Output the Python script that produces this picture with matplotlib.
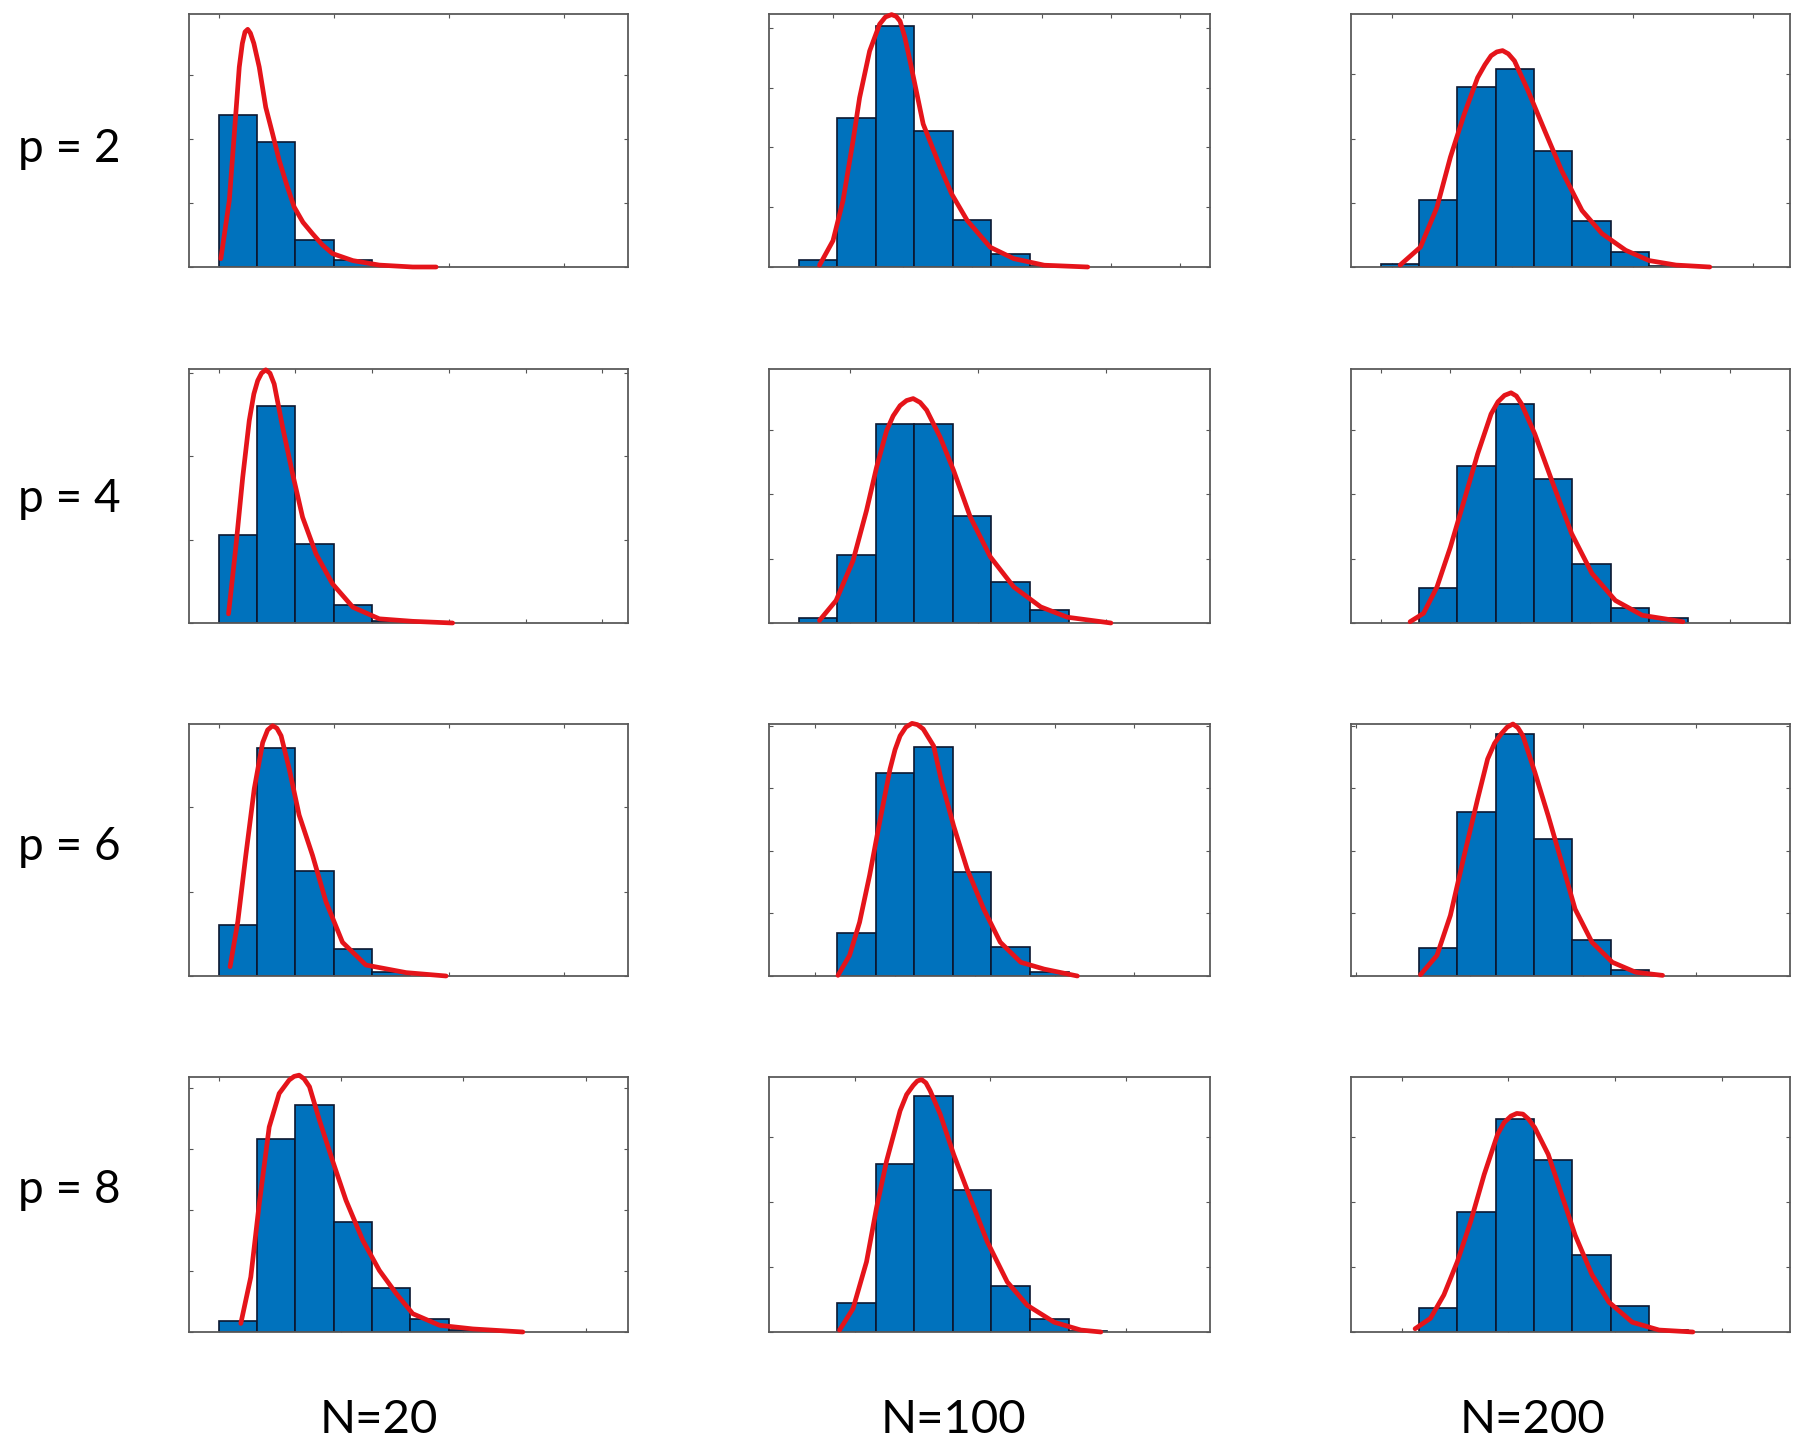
import numpy as np
import matplotlib.pyplot as plt

# rows: p, columns: N
p_values = [2, 4, 6, 8]
n_values = [20, 100, 200]

# bar heights per bin (bin 0 starts at x=0, bin width 1), in y-tick units
hist_p2 = [[2.38, 1.95, 0.43, 0.11, 0.02],
           [0.12, 2.49, 4.03, 2.27, 0.79, 0.21, 0.02],
           [0.04, 1.04, 2.80, 3.08, 1.80, 0.72, 0.23, 0.01]]
hist_p4 = [[1.06, 2.61, 0.95, 0.22, 0.03],
           [0.07, 1.06, 3.09, 3.09, 1.66, 0.64, 0.20],
           [0.0, 0.54, 2.44, 3.41, 2.24, 0.92, 0.24, 0.07]]
hist_p6 = [[0.61, 2.71, 1.25, 0.32, 0.05],
           [0.0, 0.69, 3.24, 3.66, 1.67, 0.46, 0.07],
           [0.0, 0.44, 2.63, 3.87, 2.19, 0.58, 0.09]]
hist_p8 = [[0.18, 3.17, 3.72, 1.80, 0.72, 0.21, 0.03],
           [0.0, 0.45, 2.59, 3.63, 2.18, 0.71, 0.20, 0.01],
           [0.0, 0.37, 1.85, 3.27, 2.64, 1.19, 0.40, 0.03]]

# fitted density curves (x, y)
curve_p2 = [
    ([0.06, 0.28, 0.41, 0.54, 0.62, 0.69, 0.76, 0.83, 0.92, 1.06, 1.23, 1.41, 1.58, 1.78, 1.97, 2.2, 2.45, 2.7, 2.97, 3.5, 4.19, 5.06, 5.67],
     [0.13, 1.04, 2.08, 3.13, 3.50, 3.68, 3.72, 3.66, 3.50, 3.13, 2.50, 2.08, 1.67, 1.28, 0.94, 0.70, 0.52, 0.35, 0.21, 0.10, 0.03, 0.0, 0.0]),
    ([0.54, 0.89, 1.15, 1.41, 1.58, 1.84, 2.1, 2.25, 2.41, 2.53, 2.63, 2.75, 2.89, 3.23, 3.67, 3.97, 4.37, 4.97, 5.58, 6.37, 7.5],
     [0.03, 0.44, 1.11, 2.11, 2.83, 3.61, 4.06, 4.18, 4.22, 4.19, 4.11, 3.85, 3.44, 2.39, 1.67, 1.22, 0.78, 0.33, 0.14, 0.03, 0.0]),
    ([0.51, 1.04, 1.47, 1.82, 2.18, 2.53, 2.72, 2.88, 3.03, 3.18, 3.33, 3.49, 3.84, 4.28, 4.72, 5.25, 5.77, 6.39, 7.0, 7.7, 8.58],
     [0.03, 0.31, 0.93, 1.71, 2.38, 2.95, 3.15, 3.29, 3.35, 3.37, 3.32, 3.21, 2.75, 2.12, 1.50, 0.88, 0.52, 0.26, 0.10, 0.03, 0.0]),
]
curve_p4 = [
    ([0.26, 0.45, 0.63, 0.8, 0.92, 1.02, 1.12, 1.23, 1.34, 1.45, 1.67, 1.93, 2.19, 2.54, 2.97, 3.5, 4.19, 5.06, 6.1],
     [0.11, 0.91, 1.75, 2.43, 2.75, 2.91, 3.00, 3.04, 3.00, 2.87, 2.35, 1.79, 1.27, 0.83, 0.47, 0.19, 0.05, 0.02, 0.0]),
    ([0.54, 0.97, 1.41, 1.76, 2.02, 2.28, 2.45, 2.63, 2.8, 2.97, 3.15, 3.32, 3.67, 4.02, 4.45, 4.97, 5.58, 6.28, 6.97, 8.1],
     [0.04, 0.35, 0.97, 1.75, 2.42, 2.99, 3.22, 3.38, 3.46, 3.49, 3.43, 3.31, 2.89, 2.37, 1.65, 1.03, 0.56, 0.25, 0.09, 0.0]),
    ([0.77, 1.12, 1.47, 1.82, 2.18, 2.53, 2.88, 3.06, 3.23, 3.4, 3.54, 3.67, 4.02, 4.46, 4.98, 5.51, 6.12, 6.82, 7.88],
     [0.02, 0.15, 0.56, 1.18, 1.91, 2.63, 3.25, 3.44, 3.54, 3.58, 3.53, 3.41, 2.94, 2.22, 1.39, 0.77, 0.35, 0.12, 0.02]),
]
curve_p6 = [
    ([0.3, 0.5, 0.71, 0.93, 1.15, 1.28, 1.41, 1.52, 1.63, 1.84, 2.1, 2.45, 2.8, 3.23, 3.84, 4.89, 5.93],
     [0.11, 0.64, 1.43, 2.22, 2.77, 2.92, 2.97, 2.94, 2.85, 2.46, 1.91, 1.43, 0.88, 0.40, 0.13, 0.04, 0.0]),
    ([1.02, 1.32, 1.58, 1.84, 2.1, 2.37, 2.5, 2.63, 2.78, 2.94, 3.08, 3.23, 3.5, 3.71, 4.02, 4.37, 4.8, 5.23, 5.76, 6.37, 7.23],
     [0.01, 0.33, 0.86, 1.61, 2.46, 3.31, 3.62, 3.84, 3.98, 4.04, 4.02, 3.95, 3.68, 3.10, 2.40, 1.71, 1.07, 0.54, 0.22, 0.11, 0.0]),
    ([1.04, 1.47, 1.82, 2.18, 2.53, 2.79, 2.97, 3.14, 3.3, 3.45, 3.58, 3.71, 4.02, 4.37, 4.72, 5.07, 5.51, 6.04, 6.65, 7.35],
     [0.02, 0.33, 0.97, 1.93, 2.83, 3.47, 3.72, 3.87, 3.98, 4.03, 3.97, 3.84, 3.26, 2.56, 1.82, 1.07, 0.54, 0.22, 0.06, 0.01]),
]
curve_p8 = [
    ([0.58, 0.84, 1.06, 1.32, 1.58, 1.84, 1.97, 2.1, 2.23, 2.37, 2.63, 2.97, 3.32, 3.76, 4.19, 4.63, 5.06, 5.76, 6.63, 7.93],
     [0.14, 0.90, 2.10, 3.36, 3.91, 4.13, 4.19, 4.21, 4.15, 4.02, 3.47, 2.81, 2.16, 1.50, 1.01, 0.63, 0.30, 0.11, 0.05, 0.0]),
    ([1.06, 1.41, 1.76, 2.02, 2.28, 2.63, 2.8, 2.97, 3.08, 3.19, 3.3, 3.41, 3.67, 4.02, 4.45, 4.89, 5.41, 5.93, 6.63, 7.32, 7.84],
     [0.03, 0.36, 1.08, 1.91, 2.63, 3.40, 3.65, 3.79, 3.86, 3.88, 3.83, 3.71, 3.35, 2.73, 2.06, 1.39, 0.77, 0.41, 0.15, 0.03, 0.0]),
    ([0.9, 1.3, 1.65, 2.0, 2.35, 2.7, 3.05, 3.22, 3.4, 3.55, 3.71, 3.86, 4.02, 4.37, 4.72, 5.07, 5.51, 5.95, 6.56, 7.26, 8.14],
     [0.05, 0.21, 0.57, 1.08, 1.70, 2.42, 3.04, 3.22, 3.32, 3.36, 3.35, 3.27, 3.14, 2.73, 2.11, 1.49, 0.88, 0.46, 0.15, 0.03, 0.0]),
]

hists = [hist_p2, hist_p4, hist_p6, hist_p8]
curves = [curve_p2, curve_p4, curve_p6, curve_p8]

# axis layout (y top in tick units, x tick start/step in bin units)
ylim_top = [[3.96, 4.23, 3.94], [3.05, 3.95, 3.95], [2.99, 4.03, 4.03], [4.18, 3.92, 3.92]]
xtick_cfg = [[(0, 3), (0.9, 1.8), (0.29, 3.14)],
             [(0, 2), (1.32, 3.33), (0, 1.82)],
             [(0, 3), (0.43, 2.07), (-0.63, 2.95)],
             [(0, 3.19), (1.45, 3.52), (0.55, 2.78)]]

W, H = 1800, 1453
col_px = [(189, 628), (769, 1210), (1351, 1790)]
row_px = [(14, 267), (369, 623), (724, 976), (1077, 1332)]

plt.rcParams['font.family'] = ['Lato', 'DejaVu Sans']
fig = plt.figure(figsize=(W / 100, H / 100), dpi=100)

for i in range(4):
    for j in range(3):
        x0, x1 = col_px[j]
        y0, y1 = row_px[i]
        ax = fig.add_axes([x0 / W, 1 - y1 / H, (x1 - x0) / W, (y1 - y0) / H])
        h = np.array(hists[i][j])
        edges = np.arange(len(h))
        m = h > 0
        ax.bar(edges[m], h[m], width=1.0, align='edge', color='#0072BD',
               edgecolor='#0b1730', linewidth=1.2, zorder=2)
        cx, cy = curves[i][j]
        ax.plot(cx, cy, color='#E5141A', lw=3.4, solid_capstyle='round',
                solid_joinstyle='round', zorder=3, clip_on=False)
        ax.set_xlim(-0.77, 10.67)
        ax.set_ylim(0, ylim_top[i][j])
        s, st = xtick_cfg[i][j]
        ax.set_xticks(np.arange(s, 10.67, st))
        ax.set_yticks(np.arange(0, ylim_top[i][j] + 0.01, 1.0))
        ax.tick_params(direction='in', length=3, width=0.8, color='#555555',
                       top=True, right=True, labelbottom=False, labelleft=False)
        for sp in ax.spines.values():
            sp.set_color('#5a5a5a')
            sp.set_linewidth(1.3)

row_label_y = [149, 499, 847, 1190]
for p, yy in zip(p_values, row_label_y):
    fig.text(69 / W, 1 - yy / H, f"p = {p}", ha='center', va='center', fontsize=33)

col_label_x = [379, 953, 1533]
for n, xx in zip(n_values, col_label_x):
    fig.text(xx / W, 1 - 1420 / H, f"N={n}", ha='center', va='center', fontsize=34)

fig.savefig('out.png', dpi=100)
